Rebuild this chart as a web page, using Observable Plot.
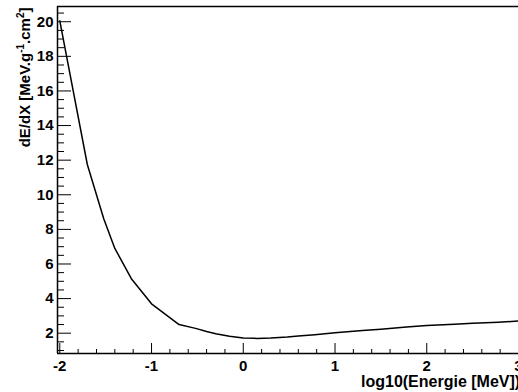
<!DOCTYPE html>
<html><head><meta charset="utf-8">
<script src="https://cdn.jsdelivr.net/npm/d3@7"></script>
<script src="https://cdn.jsdelivr.net/npm/@observablehq/plot@0.6"></script>
<style>html,body{margin:0;padding:0;background:#fff;overflow:hidden}
svg text{font-family:'Liberation Sans', Arial, Helvetica, sans-serif !important;font-weight:bold !important;}</style>
</head><body><div id="chart"></div>
<script>
// log10(E / MeV)
const logE = [-2.0, -1.7, -1.52, -1.4, -1.22, -1.0, -0.7, -0.52, -0.4, -0.3, -0.15, 0.0, 0.15, 0.3, 0.48, 0.6, 0.78, 1.0, 1.3, 1.5, 1.78, 2.0, 2.3, 2.5, 2.78, 3.0];
// dE/dX [MeV g^-1 cm^2]
const dEdX = [20.05, 11.75, 8.6, 6.9, 5.15, 3.70, 2.50, 2.28, 2.10, 1.97, 1.82, 1.72, 1.70, 1.72, 1.78, 1.84, 1.91, 2.02, 2.15, 2.23, 2.36, 2.44, 2.52, 2.57, 2.64, 2.70];

const xMajorTicks = [-2, -1, 0, 1, 2, 3];
const yMajorTicks = [2, 4, 6, 8, 10, 12, 14, 16, 18, 20];
const xTitle = "log10(Energie [MeV])";
const yTitle = "dE/dX [MeV.g-1.cm2]";

const xDomain = [-2.025, 3.0];
const yDomain = [0.827, 20.88];

const xMinorTicks = d3.range(-2, 3.001, 0.2).map(v => +v.toFixed(2)).filter(v => !xMajorTicks.includes(v));
const yMinorTicks = d3.range(1, 20.6, 0.5).filter(v => !yMajorTicks.includes(v));

const data = logE.map((x, i) => ({x, y: dEdX[i]}));

const chart = Plot.plot({
  width: 518,
  height: 392,
  marginLeft: 57,
  marginRight: 0,
  marginTop: 6,
  marginBottom: 39,
  style: {fontSize: "15px", background: "#fff", color: "#000"},
  x: {type: "linear", domain: xDomain},
  y: {type: "linear", domain: yDomain},
  marks: [
    // frame (top, left, bottom)
    Plot.ruleY([yDomain[1]], {y: d => d, stroke: "#000", strokeWidth: 1.5}),
    Plot.ruleY([yDomain[0]], {y: d => d, stroke: "#000", strokeWidth: 1.5}),
    Plot.ruleX([xDomain[0]], {x: d => d, stroke: "#000", strokeWidth: 1.5}),
    // x ticks (inward)
    Plot.ruleX(xMajorTicks, {x: d => d, y1: yDomain[0], y2: yDomain[0], insetTop: -10, stroke: "#000", strokeWidth: 1}),
    Plot.ruleX(xMinorTicks, {x: d => d, y1: yDomain[0], y2: yDomain[0], insetTop: -4, stroke: "#000", strokeWidth: 1}),
    // y ticks (inward)
    Plot.ruleY(yMajorTicks, {y: d => d, x1: xDomain[0], x2: xDomain[0], insetRight: -14, stroke: "#000", strokeWidth: 1}),
    Plot.ruleY(yMinorTicks, {y: d => d, x1: xDomain[0], x2: xDomain[0], insetRight: -7, stroke: "#000", strokeWidth: 1}),
    Plot.axisX({ticks: xMajorTicks, tickSize: 0, tickPadding: 7, tickFormat: d => String(d), label: null, fontSize: 15}),
    Plot.axisY({ticks: yMajorTicks, tickSize: 0, tickPadding: 4, tickFormat: d => String(d), label: null, fontSize: 15}),
    Plot.line(data, {x: "x", y: "y", stroke: "#000", strokeWidth: 1.5}),
    Plot.text([xTitle], {text: d => d, frameAnchor: "bottom-left", textAnchor: "start", dx: 303.5, dy: 33, fontSize: 16, fill: "#000"}),
    Plot.text([yTitle], {text: d => d, frameAnchor: "top-left", rotate: -90, textAnchor: "end", dx: -38, dy: 1, fontSize: 15, fill: "#000"})
  ]
});

// render superscripts in the y title as real text tspans
d3.select(chart).selectAll("text").filter(function() { return this.textContent === yTitle; }).each(function() {
  const t = d3.select(this);
  t.text(null);
  t.append("tspan").text("dE/dX [MeV.g");
  t.append("tspan").attr("dy", -6).attr("font-size", 10).text("-1");
  t.append("tspan").attr("dy", 6).text(".cm");
  t.append("tspan").attr("dy", -6).attr("font-size", 10).text("2");
  t.append("tspan").attr("dy", 6).text("]");
});

document.getElementById("chart").appendChild(chart);
</script>
</body></html>
